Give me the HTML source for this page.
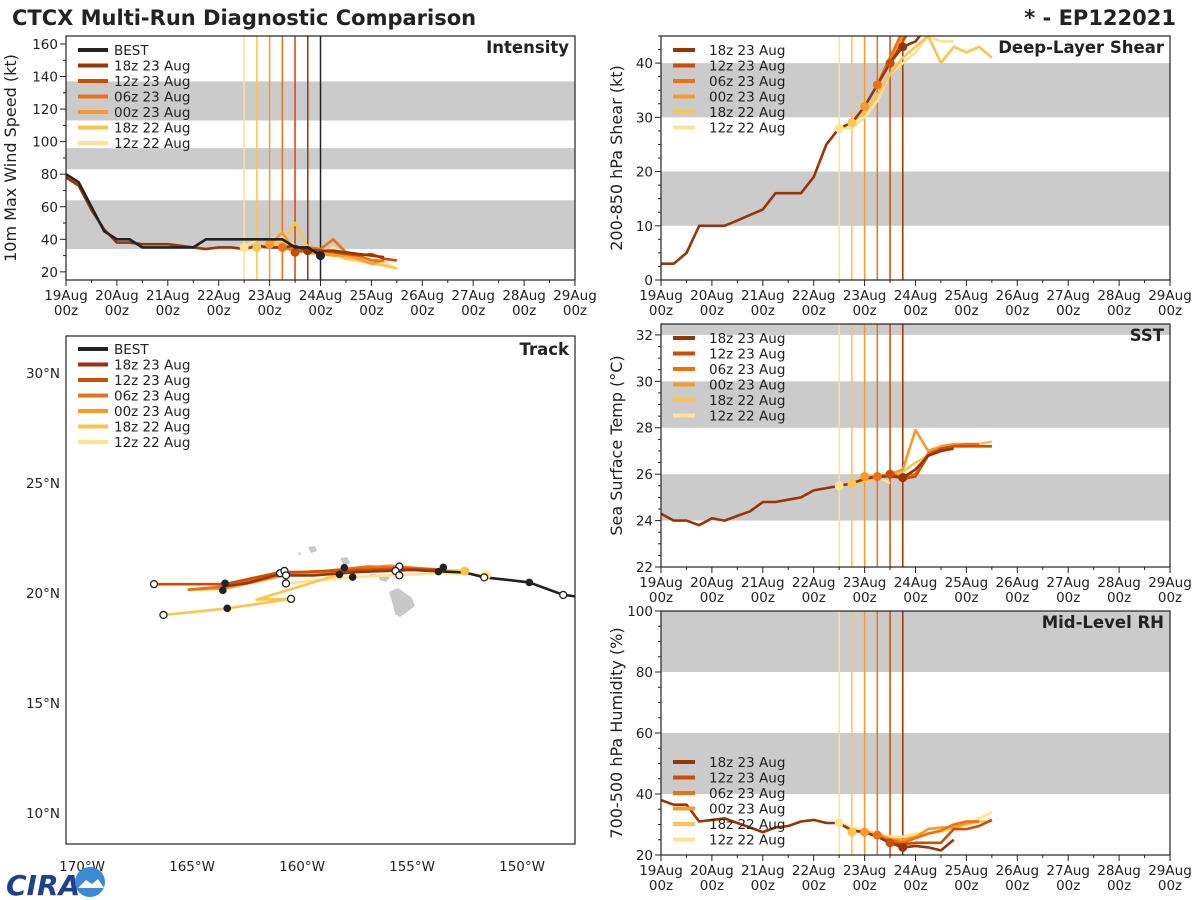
<!DOCTYPE html>
<html><head><meta charset="utf-8">
<style>
html,body{margin:0;padding:0;background:#fff;}
svg{display:block;font-family:"DejaVu Sans","Liberation Sans",sans-serif;}
</style></head>
<body>
<svg id="fig" width="1200" height="900" viewBox="0 0 1200 900" xmlns="http://www.w3.org/2000/svg">
<rect width="1200" height="900" fill="#fff"/>
<text x="12" y="25" font-size="21" font-weight="bold" fill="#222">CTCX Multi-Run Diagnostic Comparison</text>
<text x="1176" y="25" font-size="21" font-weight="bold" fill="#222" text-anchor="end">* - EP122021</text>
<g id="logo">
<text x="6" y="895" font-size="28" font-weight="bold" fill="#1f3f8f" font-style="italic">CIRA</text>
<circle cx="90" cy="882" r="15" fill="#3a8ad6"/>
<path d="M78 888 L86 880 L92 884 L98 879 L104 888 Z" fill="#fff"/>
</g>
</svg>
<script>
const runNames = ['18z 23 Aug','12z 23 Aug','06z 23 Aug','00z 23 Aug','18z 22 Aug','12z 22 Aug'];
const runColors = ['#993404','#cc4c02','#ec7014','#fe9929','#fec44f','#fee391'];
const runInit = [4.75,4.5,4.25,4.0,3.75,3.5];
const runStart = [0,4.5,4.25,4.0,3.75,3.5];
const dayLabels = ['19Aug','20Aug','21Aug','22Aug','23Aug','24Aug','25Aug','26Aug','27Aug','28Aug','29Aug'];

// Intensity (kt), 6-hourly from runStart
const intBest = [80,75,60,45,40,40,35,35,35,35,35,40,40,40,40,40,40,40,35,35,30];
const int18z23 = [78,73,58,46,38,38,37,37,37,36,35,34,35,35,34,36,35,35,36,33,33,33,32,31,30,29];
const int12z23 = [32,34,33,32,31,30,31,28,27];
const int06z23 = [35,33,35,34,40,32,30,27,27];
const int00z23 = [37,44,33,32,31,30,30,28,25,27];
const int18z22 = [35,37,38,50,35,32,31,28,27,25,24,22];
const int12z22 = [35,40,40,42,36,32,30,35,29,29,28,26,22];

// Shear (kt)
const shr18z23 = [3,3,5,10,10,10,11,12,13,16,16,16,19,25,28,29,32,36,40,43,44,47];
const shr12z23 = [40,44,48];
const shr06z23 = [36,41,46,50];
const shr00z23 = [32,36,41,45,48];
const shr18z22 = [29,31,34,38,41,43,45,40,43,42,43,41];
const shr12z22 = [28,28,30,33,38,40,42,45,44,44];

// SST (C)
const sst18z23 = [24.3,24.0,24.0,23.8,24.1,24.0,24.2,24.4,24.8,24.8,24.9,25.0,25.3,25.4,25.5,25.6,25.8,25.9,25.9,25.85,26.2,26.8,27.0,27.1];
const sst12z23 = [26.0,25.8,25.9,26.8,27.1,27.2,27.2,27.2,27.2];
const sst06z23 = [25.9,26.0,25.9,26.0,26.9,27.1,27.2,27.3,27.3];
const sst00z23 = [25.9,25.9,26.0,26.2,27.9,27.0,27.2,27.3,27.3];
const sst18z22 = [25.6,25.7,25.8,26.0,26.1,26.5,26.8,27.0,27.2,27.2,27.3,27.4];
const sst12z22 = [25.5,25.6,25.8,25.9,25.6];

// RH (%)
const rh18z23 = [38,36.5,36.5,31,31.5,32,30.5,29,27.5,29,29.5,31,31.5,30.5,30.5,28,27.5,26,24,22.5,23,22.5,21.5,25];
const rh12z23 = [24,23.5,24,24,24,28.5,28.5,29.5,31.5];
const rh06z23 = [26.5,25,24,25.5,27,28,30,31,31];
const rh00z23 = [27.5,26,25,25,26,28.5,29,29,30.5,31];
const rh18z22 = [27.5,28,27,25.5,25,25.5,27,28,29,30,31,31];
const rh12z22 = [30.5,29,28,27,26,26,27,27,27.5,29,30,32,34];

// Track (lon deg E negative, lat deg N)
const bestLon = [-147.6,-148.13,-149.67,-151.72,-152.6,-153.58];
const bestLat = [19.85,19.91,20.48,20.71,20.93,20.97];
const trk18z23Lon = [-153.58,-155,-157.5,-159.5,-161.2,-162.5,-163.5];
const trk18z23Lat = [20.97,21.05,20.95,20.8,20.8,20.45,20.3];
const trk12z23Lon = [-153.6,-155.5,-157.5,-160,-161,-163.5,-166.73];
const trk12z23Lat = [21.05,21.1,21.05,20.95,20.95,20.4,20.4];
const trk06z23Lon = [-153.6,-155,-157,-159,-161,-163.5,-165.2];
const trk06z23Lat = [21.05,21.15,21.2,21.0,20.9,20.3,20.15];
const trk00z23Lon = [-153.6,-154.5,-156,-158.5,-160.8,-163.5,-165.2];
const trk00z23Lat = [21.0,21.1,21.25,20.95,20.8,20.2,20.15];
const trk18z22Lon = [-152.6,-154,-155.6,-158,-159.6,-162.06,-160.5,-163.4,-166.3];
const trk18z22Lat = [21.0,21.05,21.2,20.95,20.45,19.7,19.73,19.3,19.0];
const trk12z22Lon = [-151.61,-153.5,-155.58,-157.7,-159.6,-160.73];
const trk12z22Lat = [20.82,20.9,20.82,20.72,20.55,20.43];
const dotBlackLon = [-153.58,-153.8,-158.08,-158.3,-157.7,-163.5,-163.6,-163.4,-149.67];
const dotBlackLat = [21.16,20.97,21.15,20.84,20.72,20.44,20.12,19.3,20.48];
const dotOpenLon = [-166.73,-166.3,-161.0,-160.8,-160.73,-160.73,-160.5,-155.58,-155.75,-155.58,-151.72,-148.13];
const dotOpenLat = [20.4,19.0,20.9,21.0,20.8,20.43,19.73,21.2,21.0,20.8,20.71,19.91];

const NS='http://www.w3.org/2000/svg';
const fig=document.getElementById('fig');
const logo=document.getElementById('logo');
function mk(tag,attrs,parent){const e=document.createElementNS(NS,tag);for(const k in attrs)e.setAttribute(k,attrs[k]);(parent||fig).insertBefore(e,parent?null:logo);return e;}

function timePanel(p){
  const g=mk('g',{});
  
  
  const X=d=>p.L+(p.R-p.L)*d/10;
  const Y=v=>p.B-(v-p.ymin)/(p.ymax-p.ymin)*(p.B-p.T);
  const cid='clip-'+p.name;
  const cp=mk('clipPath',{id:cid},g);mk('rect',{x:p.L,y:p.T,width:p.R-p.L,height:p.B-p.T},cp);
  p.bands.forEach(b=>{const r=mk('rect',{x:p.L,y:Y(Math.min(b[1],p.ymax)),width:p.R-p.L,height:Y(b[0])-Y(Math.min(b[1],p.ymax)),fill:'#cbcbcb'},g);
    
    });
  const cg=mk('g',{'clip-path':'url(#'+cid+')'},g);
  for(let i=5;i>=0;i--){const l=mk('line',{x1:X(runInit[i]),x2:X(runInit[i]),y1:p.T,y2:p.B,stroke:runColors[i],'stroke-width':1.5},cg);
    
    }
  if(p.best){const l=mk('line',{x1:X(5),x2:X(5),y1:p.T,y2:p.B,stroke:'#222','stroke-width':1.5},cg);
    
    }
  for(let i=5;i>=0;i--){const s=p.series[i];const st=runStart[i];
    const pts=s.map((v,k)=>X(st+k*0.25).toFixed(1)+','+Y(v).toFixed(1)).join(' ');
    const pl=mk('polyline',{points:pts,fill:'none',stroke:runColors[i],'stroke-width':2.6,'stroke-linejoin':'round'},cg);
    
    }
  for(let i=5;i>=0;i--){const s=p.series[i];const k=Math.round((runInit[i]-runStart[i])/0.25);
    const c=mk('circle',{cx:X(runInit[i]),cy:Y(s[k]),r:4.5,fill:runColors[i]},cg);
    
    }
  if(p.best){const pts=p.best.map((v,k)=>X(k*0.25).toFixed(1)+','+Y(v).toFixed(1)).join(' ');
    const pl=mk('polyline',{points:pts,fill:'none',stroke:'#222','stroke-width':2.6},cg);
    
    
    const c=mk('circle',{cx:X(5),cy:Y(p.best[20]),r:4.5,fill:'#222'},cg);
    
    }
  const fr=mk('rect',{x:p.L,y:p.T,width:p.R-p.L,height:p.B-p.T,fill:'none',stroke:'#222','stroke-width':1.2},g);
  
  
  // x ticks
  for(let d=0;d<=10;d+=0.5){const maj=d%1===0;mk('line',{x1:X(d),x2:X(d),y1:p.B,y2:p.B+(maj?6:3),stroke:'#222','stroke-width':1},g);
    if(maj){const t=mk('text',{x:X(d),y:p.B+20,'font-size':13.5,'text-anchor':'middle',fill:'#222'},g);t.textContent=dayLabels[d];
      
      
      const t2=mk('text',{x:X(d),y:p.B+35,'font-size':13.5,'text-anchor':'middle',fill:'#222'},g);t2.textContent='00z';
      
      }}
  for(let v=p.ymin0;v<=p.ymax;v+=p.minor){const maj=Math.abs((v-p.ymin0)/p.major-Math.round((v-p.ymin0)/p.major))<1e-6;
    mk('line',{x1:p.L-(maj?6:3),x2:p.L,y1:Y(v),y2:Y(v),stroke:'#222','stroke-width':1},g);
    if(maj){const t=mk('text',{x:p.L-8,y:Y(v)+5,'font-size':13.5,'text-anchor':'end',fill:'#222'},g);t.textContent=Math.round(v);
      
      }}
  const yl=mk('text',{x:0,y:0,'font-size':16,'text-anchor':'middle',fill:'#222',transform:'translate('+p.ylx+','+((p.T+p.B)/2)+') rotate(-90)'},g);
  yl.textContent=p.ylabel;
  
  
  const tt=mk('text',{x:p.R-6,y:p.T+17,'font-size':16.5,'font-weight':'bold','text-anchor':'end',fill:'#222'},g);
  tt.textContent=p.title;
  
  
  legend(g,p.L,p.legY,!!p.best);
}
function legend(g,L,y0,withBest){
  const lg=mk('g',{},g);
  
  
  const names=withBest?['BEST'].concat(runNames):runNames;
  const cols=withBest?['#222'].concat(runColors):runColors;
  names.forEach((n,i)=>{const y=y0+i*15.5;
    const e=mk('g',{},lg);
    
    
    mk('line',{x1:L+12,x2:L+(withBest?42:34),y1:y,y2:y,stroke:cols[i],'stroke-width':4},e);
    const t=mk('text',{x:L+(withBest?48:48),y:y+5,'font-size':13.5,fill:'#222'},e);t.textContent=n;});
}

timePanel({name:'intensity',L:66,R:575,T:36,B:280,ymin:15,ymax:164.9,ymin0:20,major:20,minor:10,
  bands:[[34,64],[83,96],[113,137]],series:[int18z23,int12z23,int06z23,int00z23,int18z22,int12z22],best:intBest,
  ylabel:'10m Max Wind Speed (kt)',ylx:16,title:'Intensity',legY:50});
timePanel({name:'shear',L:661,R:1170,T:36,B:280,ymin:0,ymax:45,ymin0:0,major:10,minor:2.5,
  bands:[[10,20],[30,40]],series:[shr18z23,shr12z23,shr06z23,shr00z23,shr18z22,shr12z22],
  ylabel:'200-850 hPa Shear (kt)',ylx:622,title:'Deep-Layer Shear',legY:50});
timePanel({name:'sst',L:661,R:1170,T:324,B:567,ymin:22,ymax:32.47,ymin0:22,major:2,minor:0.5,
  bands:[[24,26],[28,30],[32,33]],series:[sst18z23,sst12z23,sst06z23,sst00z23,sst18z22,sst12z22],
  ylabel:'Sea Surface Temp (°C)',ylx:622,title:'SST',legY:338});
timePanel({name:'rh',L:661,R:1170,T:611,B:855,ymin:20,ymax:100,ymin0:20,major:20,minor:5,
  bands:[[40,60],[80,100]],series:[rh18z23,rh12z23,rh06z23,rh00z23,rh18z22,rh12z22],
  ylabel:'700-500 hPa Humidity (%)',ylx:622,title:'Mid-Level RH',legY:762});

// Track panel
(function(){
  const L=66,R=575,T=336,B=844,lon0=-170.73,lat1=31.68;
  const X=lo=>L+(lo-lon0)*22, Y=la=>T+(lat1-la)*22;
  const g=mk('g',{});
  
  
  const cp=mk('clipPath',{id:'clip-track'},g);mk('rect',{x:L,y:T,width:R-L,height:B-T},cp);
  const cg=mk('g',{'clip-path':'url(#clip-track)'},g);
  const land=mk('g',{fill:'#c8c8c8'},cg);
  
  
  mk('path',{d:'M389 592 L398 588 L405 593 L412 598 L415 606 L407 612 L400 617 L395 614 L393 605 Z'},land);
  mk('path',{d:'M378 576 L385 574 L390 578 L386 582 L380 580 Z'},land);
  mk('path',{d:'M370 574 L376 574 L376 577 L370 577 Z'},land);
  mk('path',{d:'M340 558 L347 557 L350 563 L344 566 Z'},land);
  mk('path',{d:'M308 547 L315 546 L317 551 L311 553 Z'},land);
  mk('path',{d:'M298 553 L301 552 L300 556 Z'},land);
  const tracks=[[trk12z22Lon,trk12z22Lat],[trk18z22Lon,trk18z22Lat],[trk00z23Lon,trk00z23Lat],[trk06z23Lon,trk06z23Lat],[trk12z23Lon,trk12z23Lat],[trk18z23Lon,trk18z23Lat]];
  tracks.forEach((t,j)=>{const i=5-j;const pts=t[0].map((lo,k)=>X(lo).toFixed(1)+','+Y(t[1][k]).toFixed(1)).join(' ');
    const pl=mk('polyline',{points:pts,fill:'none',stroke:runColors[i],'stroke-width':2.6,'stroke-linejoin':'round'},cg);
    
    });
  const bp=bestLon.map((lo,k)=>X(lo).toFixed(1)+','+Y(bestLat[k]).toFixed(1)).join(' ');
  const bl=mk('polyline',{points:bp,fill:'none',stroke:'#222','stroke-width':2.6},cg);
  
  
  const yd1=mk('circle',{cx:X(-152.6),cy:Y(21.0),r:4.5,fill:'#fec44f'},cg);
  
  
  const yd2=mk('circle',{cx:X(-151.61),cy:Y(20.82),r:4.5,fill:'#fee391'},cg);
  
  
  dotBlackLon.forEach((lo,k)=>{const c=mk('circle',{cx:X(lo),cy:Y(dotBlackLat[k]),r:3.8,fill:'#222'},cg);
    
    });
  dotOpenLon.forEach((lo,k)=>{const c=mk('circle',{cx:X(lo),cy:Y(dotOpenLat[k]),r:3.5,fill:'#fff',stroke:'#222','stroke-width':1.3},cg);
    
    });
  const fr=mk('rect',{x:L,y:T,width:R-L,height:B-T,fill:'none',stroke:'#222','stroke-width':1.2},g);
  
  
  [30,25,20,15,10].forEach(la=>{const t=mk('text',{x:60,y:Y(la)+5,'font-size':13.5,'text-anchor':'end',fill:'#222'},g);t.textContent=la+'°N';
    
    });
  [-170,-165,-160,-155,-150].forEach(lo=>{const t=mk('text',{x:X(lo),y:871,'font-size':13.5,'text-anchor':'middle',fill:'#222'},g);t.textContent=(-lo)+'°W';
    
    });
  const tt=mk('text',{x:R-6,y:T+19,'font-size':16.5,'font-weight':'bold','text-anchor':'end',fill:'#222'},g);
  tt.textContent='Track';
  
  
  legend(g,L,349,true);
})();
</script>
</body></html>
